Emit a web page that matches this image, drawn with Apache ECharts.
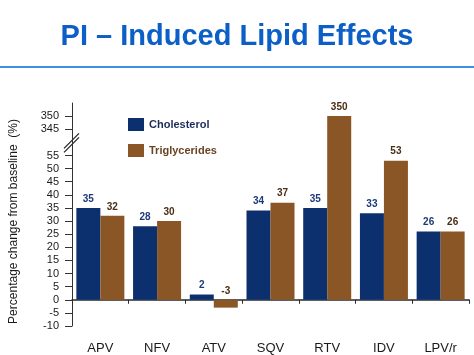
<!DOCTYPE html>
<html>
<head>
<meta charset="utf-8">
<script src="https://cdn.jsdelivr.net/npm/echarts@6/dist/echarts.min.js"></script>
<style>html,body{margin:0;padding:0;background:#fff}#c{width:474px;height:355px}</style>
</head>
<body>
<div id="c"></div>
<script>
const categories = ['APV', 'NFV', 'ATV', 'SQV', 'RTV', 'IDV', 'LPV/r'];
const cholesterol = [35, 28, 2, 34, 35, 33, 26];
const triglycerides = [32, 30, -3, 37, 350, 53, 26];
const lowerTicks = [-10, -5, 0, 5, 10, 15, 20, 25, 30, 35, 40, 45, 50, 55];
const upperTicks = [345, 350];

// broken axis: values above the break are shifted down by BREAK_SHIFT
const BREAK_AT = 60;
const BREAK_SHIFT = 280;
const toAxis = v => (v > BREAK_AT ? v - BREAK_SHIFT : v);
const fromAxis = v => (v > BREAK_AT ? v + BREAK_SHIFT : v);

const tickValues = lowerTicks.concat(upperTicks.map(toAxis));

const blue = '#0c2f6e';
const brown = '#8a5626';

function seriesData(arr) {
  return arr.map(v => ({ value: toAxis(v), orig: v }));
}

const chart = echarts.init(document.getElementById('c'));
chart.setOption({
  animation: false,
  title: {
    text: 'PI – Induced Lipid Effects',
    left: 'center',
    top: 17,
    textStyle: { fontFamily: 'Liberation Sans, Arial', fontSize: 29, fontWeight: 'bold', color: '#0b5fc6' }
  },
  legend: {
    orient: 'vertical',
    left: 123,
    top: 113,
    itemWidth: 16,
    itemHeight: 13,
    itemGap: 13,
    icon: 'rect',
    textStyle: { fontFamily: 'Liberation Sans, Arial', fontSize: 11, fontWeight: 'bold' },
    data: [
      { name: 'Cholesterol', textStyle: { color: '#1b2d5c' } },
      { name: 'Triglycerides', textStyle: { color: '#6a4322' } }
    ]
  },
  grid: { left: 68, right: 5, top: 103, bottom: 7.5, containLabel: false },
  xAxis: {
    type: 'category',
    data: categories,
    axisLine: { onZero: true, lineStyle: { color: '#2a2a2a', width: 1.5 } },
    axisTick: { show: true, length: 4, lineStyle: { color: '#2a2a2a' } },
    axisLabel: { fontFamily: 'Liberation Sans, Arial', fontSize: 13, color: '#1a1a1a', margin: 16 }
  },
  yAxis: {
    type: 'value',
    min: -10,
    max: 75,
    interval: 5,
    name: 'Percentage change from baseline  (%)',
    nameLocation: 'middle',
    nameRotate: 90,
    nameGap: 52,
    nameTextStyle: { fontFamily: 'Liberation Sans, Arial', fontSize: 12, color: '#1a1a1a', padding: [0, 14, 0, 0] },
    splitLine: { show: false },
    axisLine: { show: true, lineStyle: { color: '#333', width: 1 } },
    axisTick: { show: true, length: 7, customValues: tickValues, lineStyle: { color: '#333' } },
    axisLabel: {
      customValues: tickValues,
      fontFamily: 'Liberation Sans, Arial',
      fontSize: 11,
      color: '#1a1a1a',
      margin: 13,
      formatter: v => String(fromAxis(v))
    }
  },
  series: [
    {
      name: 'Cholesterol',
      type: 'bar',
      barWidth: 24,
      barGap: '0%',
      itemStyle: { color: blue },
      label: {
        show: true,
        position: 'top',
        distance: 4,
        fontFamily: 'Liberation Sans, Arial',
        fontSize: 10,
        fontWeight: 'bold',
        color: '#1c3a78',
        formatter: p => String(p.data.orig)
      },
      data: seriesData(cholesterol)
    },
    {
      name: 'Triglycerides',
      type: 'bar',
      barWidth: 24,
      barGap: '0%',
      itemStyle: { color: brown },
      label: {
        show: true,
        position: 'top',
        distance: 4,
        fontFamily: 'Liberation Sans, Arial',
        fontSize: 10,
        fontWeight: 'bold',
        color: '#4a2e14',
        formatter: p => String(p.data.orig)
      },
      data: seriesData(triglycerides)
    }
  ]
});

// decorations: title underline and axis break mark
const axisX = chart.getModel().getComponent('grid').coordinateSystem.getRect().x;
const by = chart.convertToPixel({ yAxisIndex: 0 }, BREAK_AT);
chart.setOption({
  graphic: [
    { type: 'rect', left: 0, top: 66, shape: { width: 474, height: 2 }, style: { fill: '#3d8fe6' } },
    { type: 'line', shape: { x1: axisX - 8, y1: by + 6, x2: axisX + 7, y2: by - 9 }, style: { stroke: '#222', lineWidth: 1.2 } },
    { type: 'line', shape: { x1: axisX - 8, y1: by + 10, x2: axisX + 7, y2: by - 5 }, style: { stroke: '#222', lineWidth: 1.2 } }
  ]
});
</script>
</body>
</html>
